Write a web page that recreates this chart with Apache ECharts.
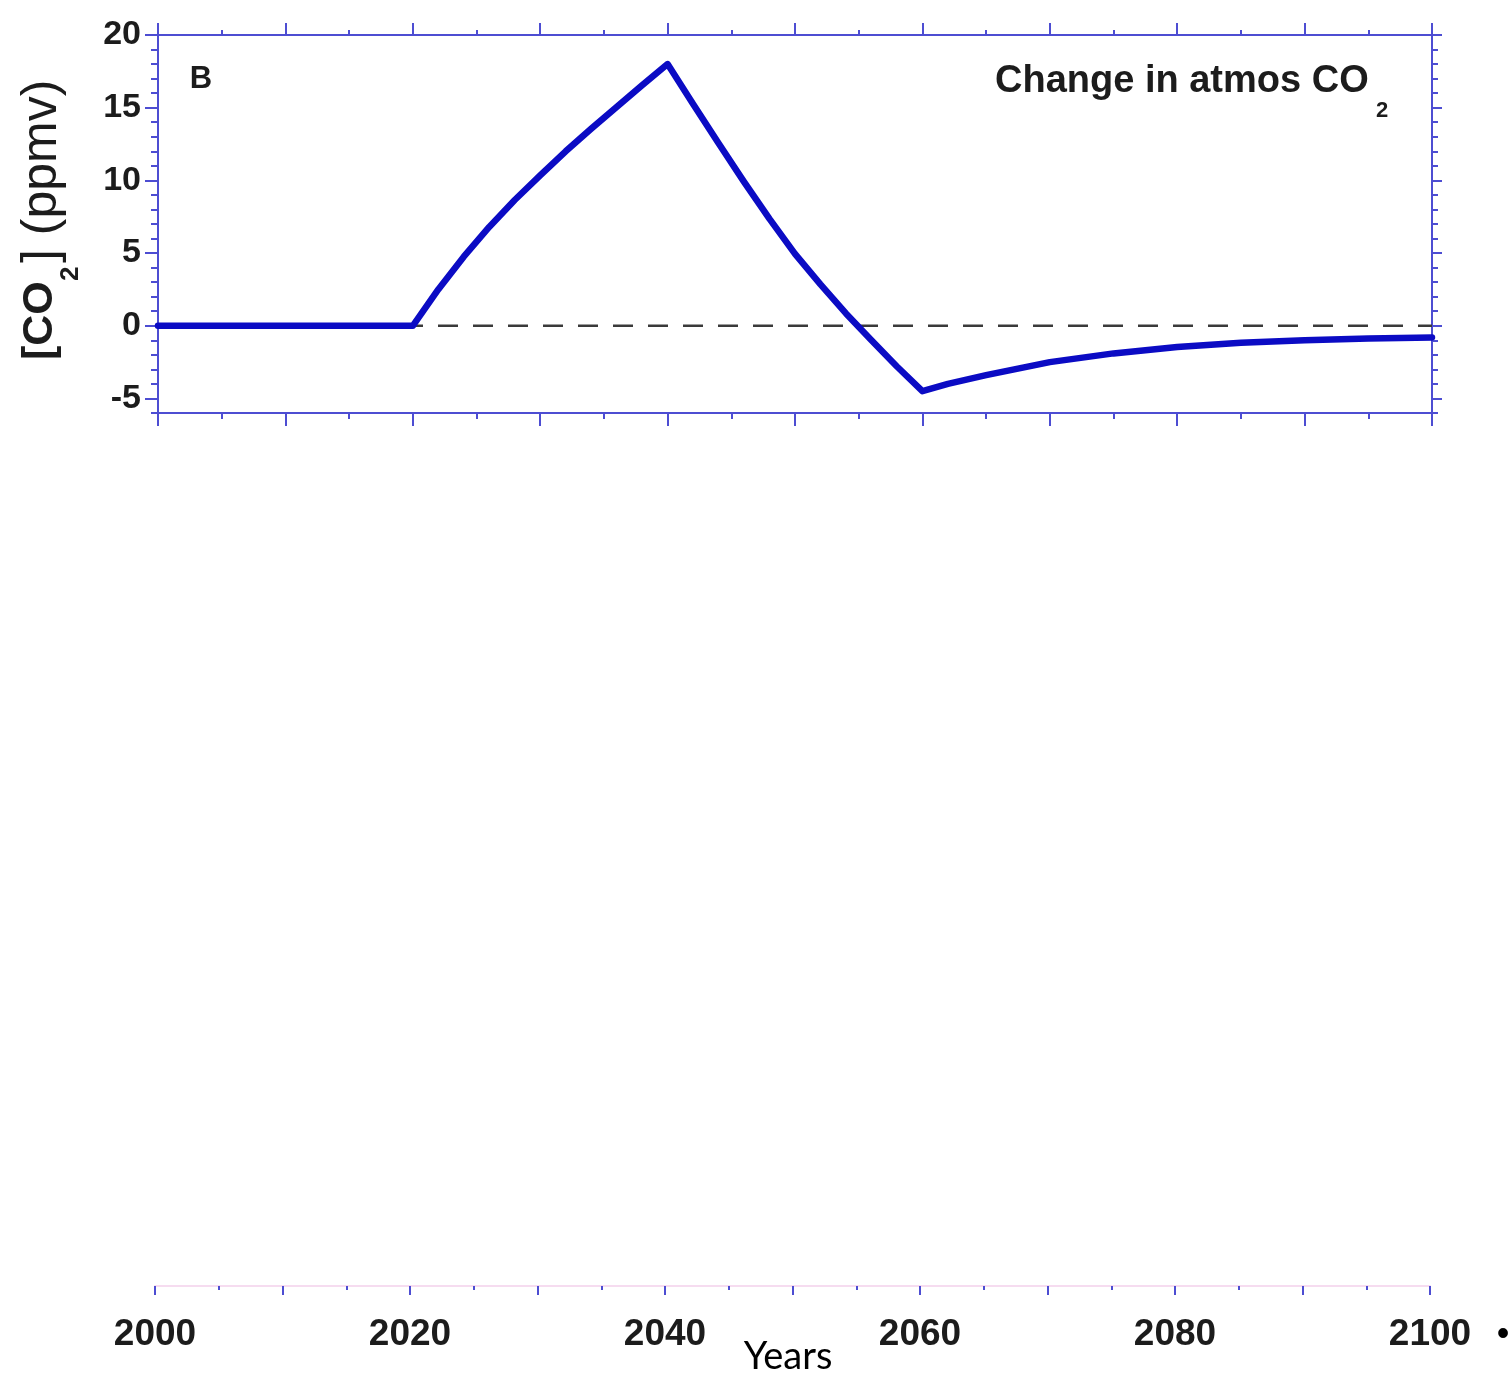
<!DOCTYPE html>
<html>
<head>
<meta charset="utf-8">
<title>Change in atmos CO2</title>
<script src="https://cdn.jsdelivr.net/npm/echarts@6/dist/echarts.min.js"></script>
<style>
  html, body { margin: 0; padding: 0; background: #ffffff; }
  #chart { width: 1511px; height: 1379px; }
</style>
</head>
<body>
<div id="chart"></div>
<script>
// Modelled change in atmospheric CO2 (ppmv) by year
const years = [2000, 2020, 2022, 2024, 2026, 2028, 2030, 2032, 2034, 2036, 2038, 2040,
               2042, 2044, 2046, 2048, 2050, 2052, 2054, 2056, 2058, 2060,
               2062, 2065, 2070, 2075, 2080, 2085, 2090, 2095, 2100];
const co2Change = [0, 0, 2.5, 4.75, 6.8, 8.65, 10.35, 12.0, 13.55, 15.05, 16.55, 18.0,
                   15.25, 12.55, 9.9, 7.35, 4.95, 2.85, 0.85, -1.0, -2.8, -4.5,
                   -4.0, -3.4, -2.5, -1.9, -1.46, -1.17, -1.0, -0.87, -0.8];

// Zero reference line
const zeroLine = [[2000, 0], [2100, 0]];

// Axis ranges and tick labels
const yearRange = [2000, 2100];
const ppmvRange = [-6, 20];
const ppmvLabels = [-5, 0, 5, 10, 15, 20];
const yearLabels = [2000, 2020, 2040, 2060, 2080, 2100];

const axisBlue = '#4d4dd2';
const lineBlue = '#0b0bc4';
const labelFont = 'Liberation Sans, Arial, Helvetica, sans-serif';

const chart = echarts.init(document.getElementById('chart'));

function yearAxis(gridIndex, position, majorLen, minorLen, lineColor) {
  return {
    type: 'value', gridIndex: gridIndex, position: position,
    min: yearRange[0], max: yearRange[1], interval: 10,
    axisLine: { show: true, onZero: false, lineStyle: { color: lineColor, width: 2 } },
    axisTick: { show: true, inside: false, length: majorLen, lineStyle: { color: axisBlue, width: 2 } },
    minorTick: { show: true, splitNumber: 2, length: minorLen, lineStyle: { color: axisBlue, width: 2 } },
    axisLabel: { show: false },
    splitLine: { show: false },
    minorSplitLine: { show: false }
  };
}

function ppmvMinorAxis(position, len) {
  return {
    type: 'value', gridIndex: 0, position: position,
    min: ppmvRange[0], max: ppmvRange[1], interval: 1,
    axisLine: { show: true, onZero: false, lineStyle: { color: axisBlue, width: 2 } },
    axisTick: { show: true, inside: false, length: len, lineStyle: { color: axisBlue, width: 2 } },
    axisLabel: { show: false },
    splitLine: { show: false }
  };
}

function ppmvMajorAxis(position, len, withLabels) {
  return {
    type: 'value', gridIndex: 0, position: position,
    min: ppmvRange[0], max: ppmvRange[1],
    axisLine: { show: false },
    axisTick: { show: true, inside: false, length: len, customValues: ppmvLabels,
                lineStyle: { color: axisBlue, width: 2 } },
    axisLabel: withLabels ? {
      show: true, customValues: ppmvLabels, margin: 17,
      formatter: v => String(v),
      fontFamily: labelFont, fontWeight: 'bold', fontSize: 34, color: '#1c1c1c'
    } : { show: false },
    splitLine: { show: false }
  };
}

const option = {
  backgroundColor: '#ffffff',
  animation: false,
  grid: [
    { left: 158, top: 35, width: 1274, height: 378, containLabel: false },
    { left: 155, top: 1285, width: 1275, height: 1, containLabel: false }
  ],
  xAxis: [
    yearAxis(0, 'bottom', 13, 6, axisBlue),
    yearAxis(0, 'top', 12, 5, axisBlue),
    Object.assign(yearAxis(1, 'bottom', 9, 4, '#f6dcf0'), {
      axisLabel: {
        show: true, customValues: yearLabels, margin: 30,
        formatter: v => String(v),
        fontFamily: labelFont, fontWeight: 'bold', fontSize: 37, color: '#1c1c1c'
      }
    })
  ],
  yAxis: [
    ppmvMajorAxis('left', 13, true),
    ppmvMinorAxis('left', 7),
    ppmvMajorAxis('right', 10, false),
    ppmvMinorAxis('right', 6),
    { type: 'value', gridIndex: 1, show: false, min: 0, max: 1 }
  ],
  series: [
    {
      name: 'zero', type: 'line', xAxisIndex: 0, yAxisIndex: 0,
      data: zeroLine, symbol: 'none', silent: true, z: 1,
      lineStyle: { color: '#3a3a3a', width: 2.5, type: [20, 15] }
    },
    {
      name: 'Change in atmos CO2', type: 'line', xAxisIndex: 0, yAxisIndex: 0,
      data: years.map((y, i) => [y, co2Change[i]]),
      symbol: 'none', smooth: false, z: 3,
      lineStyle: { color: lineBlue, width: 6.5, join: 'round', cap: 'round' }
    }
  ],
  graphic: [
    { type: 'text', x: 201, y: 79, style: {
        text: 'B', font: 'bold 31px ' + labelFont, fill: '#1c1c1c',
        textAlign: 'center', textVerticalAlign: 'middle' } },
    { type: 'text', x: 995, y: 82, style: {
        text: 'Change in atmos CO', font: 'bold 38px ' + labelFont, fill: '#1c1c1c',
        textAlign: 'left', textVerticalAlign: 'middle' } },
    { type: 'text', x: 1376, y: 111, style: {
        text: '2', font: 'bold 22px ' + labelFont, fill: '#1c1c1c',
        textAlign: 'left', textVerticalAlign: 'middle' } },
    // vertical axis title: [CO2] (ppmv)
    { type: 'text', x: 40, y: 360, rotation: Math.PI / 2, style: {
        text: '[CO', font: 'bold 43px ' + labelFont, fill: '#1c1c1c',
        textAlign: 'left', textVerticalAlign: 'middle' } },
    { type: 'text', x: 71, y: 281, rotation: Math.PI / 2, style: {
        text: '2', font: 'bold 26px ' + labelFont, fill: '#1c1c1c',
        textAlign: 'left', textVerticalAlign: 'middle' } },
    { type: 'text', x: 42, y: 263, rotation: Math.PI / 2, style: {
        text: '] (ppmv)', font: '50px ' + labelFont, fill: '#1c1c1c',
        textAlign: 'left', textVerticalAlign: 'middle' } },
    { type: 'text', x: 788, y: 1357, style: {
        text: 'Years', font: '38px Lato, "Open Sans", sans-serif', fill: '#000000',
        textAlign: 'center', textVerticalAlign: 'middle' } },
    { type: 'text', x: 1503, y: 1335, style: {
        text: '\u2022', font: '36px ' + labelFont, fill: '#000000',
        textAlign: 'center', textVerticalAlign: 'middle' } }
  ]
};

chart.setOption(option);
</script>
</body>
</html>
